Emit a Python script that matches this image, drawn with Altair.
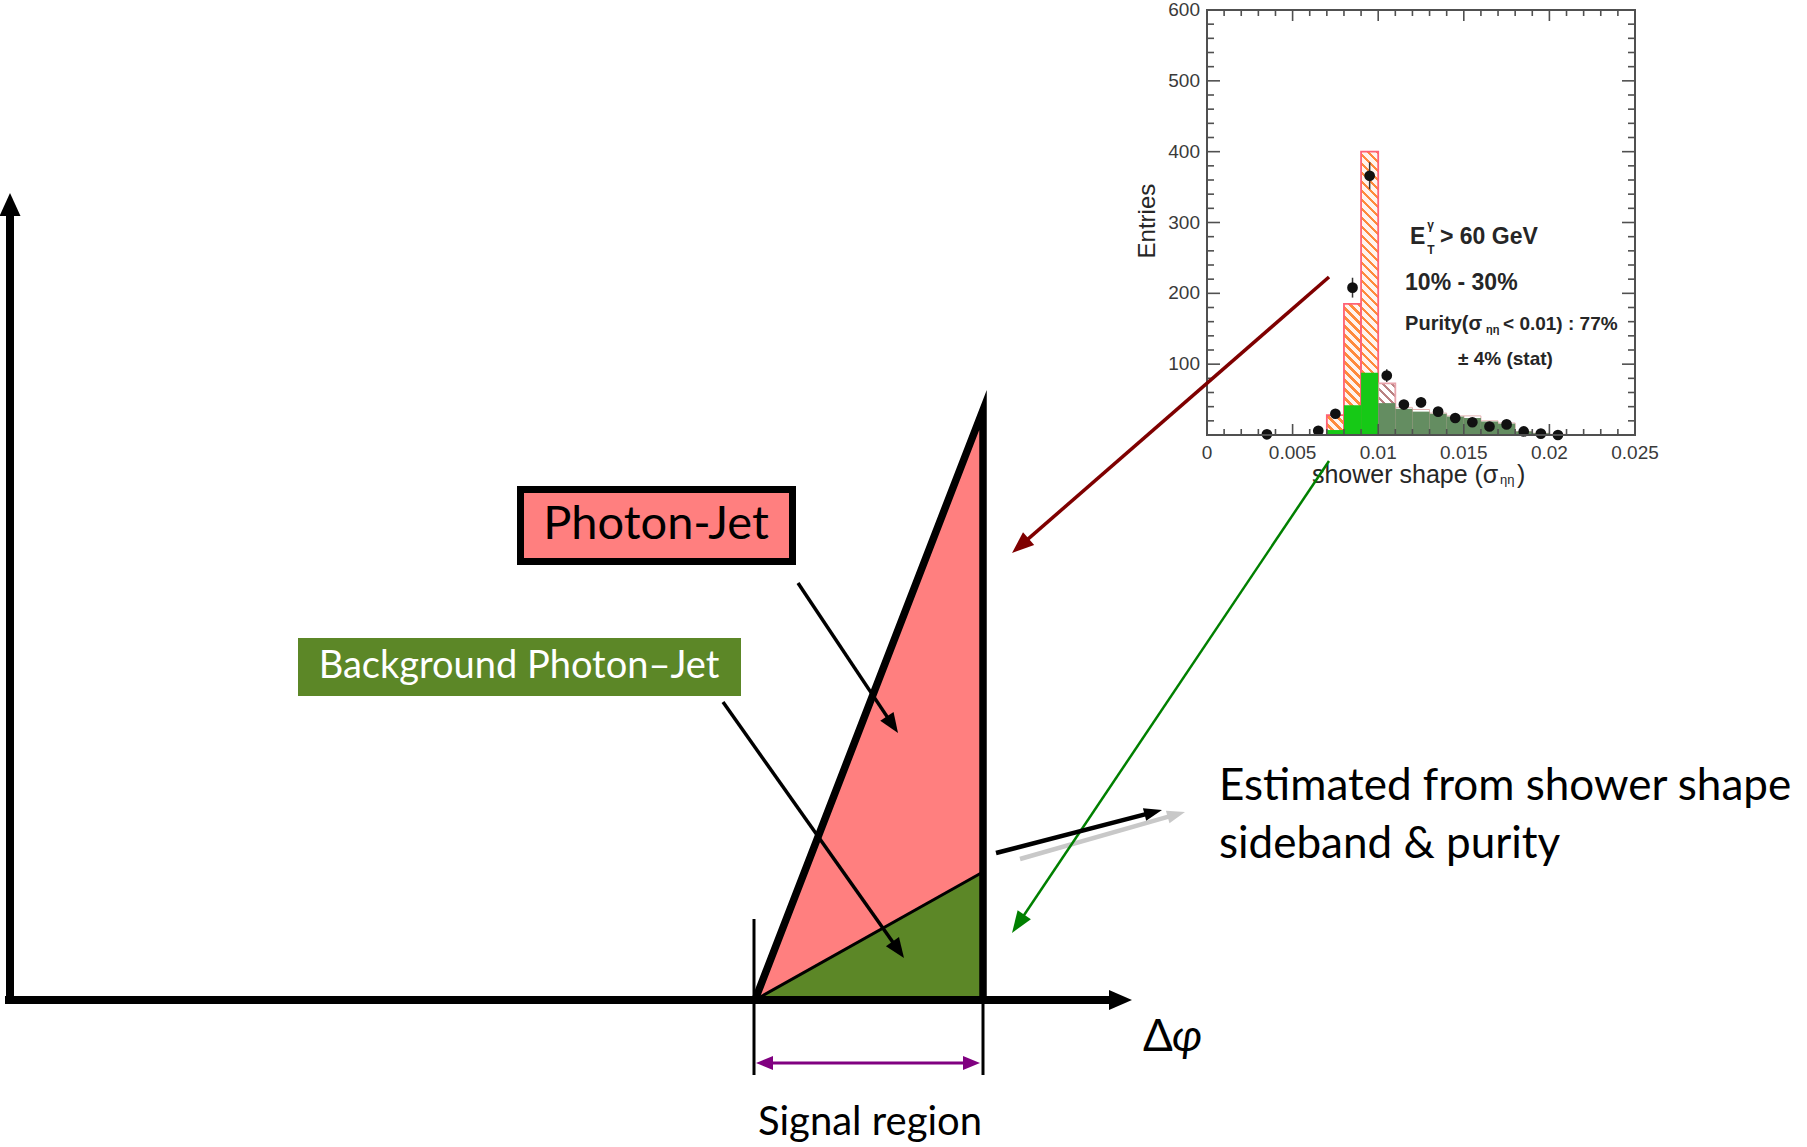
import math
import altair as alt
import pandas as pd

W, H = 1807, 1147

# ---------------------------------------------------------------------------
# Sketch of the Δφ distribution: diagram units, 1 unit = 100 px,
# origin at the corner of the two axes, y pointing up.
# ---------------------------------------------------------------------------
X_DOM = [-0.10, 17.97]
Y_DOM = [-1.47, 10.00]
PX_PER_UNIT = 100.0

# signal-region triangle: total photon-jet yield and its background part
tri_x = [7.45, 9.73]
tri_total = [0.00, 5.90]
tri_background = [0.00, 1.28]
tri_base = [0.00, 0.00]

# heavy outline of the total yield
outline_x = [7.45, 9.73, 9.73]
outline_y = [0.00, 5.90, -0.03]

# thin edges marking the signal region
edge_x = [7.44, 9.73]
edge_top = [0.81, 0.00]
edge_bottom = [-0.75, -0.75]

# signal-region span (double arrow)
span_x = [7.46, 9.70]
span_y = -0.63

# boxed labels
box_pj = {"x0": [5.105], "x1": [7.825], "y0": [4.385], "y1": [5.105]}
box_bg = {"x0": [2.88], "x1": [7.31], "y0": [3.04], "y1": [3.62]}

# arrows: start -> tip
arrow_x0 = [0.00, -0.05, 7.88, 7.13, 10.10, 13.19, 9.86, 13.19]
arrow_y0 = [-0.04, 0.00, 4.17, 2.98, 1.41, 5.39, 1.47, 7.23]
arrow_x1 = [0.00, 11.22, 8.88, 8.94, 11.75, 10.02, 11.52, 10.02]
arrow_y1 = [8.07, 0.00, 2.67, 0.42, 1.88, 0.67, 1.90, 4.47]
arrow_color = ["black", "black", "black", "black", "#c8c8c8", "#008000", "black", "#7f0000"]
arrow_width = [8, 8, 3.5, 3.5, 4.5, 2.5, 4.5, 3.5]
arrow_head_len = [23, 23, 20, 20, 18, 22, 18, 22]
arrow_head_w = [21, 20, 16, 16, 13, 16, 13, 17]

# text
pj_label = {"t": ["Photon-Jet"], "x": [6.46], "y": [4.75]}
bg_label = {"t": ["Background Photon–Jet"], "x": [5.09], "y": [3.33]}
region_label = {"t": ["Signal region"], "x": [8.60], "y": [-1.23]}
note_label = {"t": ["Estimated from shower shape", "sideband & purity"],
              "x": [12.09, 12.09], "y": [2.13, 1.55]}
delta_label = {"t": ["Δ"], "x": [11.33], "y": [-0.38]}
phi_label = {"t": ["φ"], "x": [11.62], "y": [-0.38]}

# ---------------------------------------------------------------------------
# Inset: shower-shape (σ_ηη) template fit
# ---------------------------------------------------------------------------
IN_X_DOM = [0.0, 0.025]
IN_Y_DOM = [0.0, 600.0]
IN_X_RANGE = [1207, 1635]
IN_Y_RANGE = [435, 10]

bin_lo = [0.007, 0.008, 0.009, 0.010, 0.011, 0.012, 0.013, 0.014,
          0.015, 0.016, 0.017, 0.018, 0.019, 0.020]
template_total = [28, 185, 400, 73, 39, 36, 31, 27, 27, 20, 17, 5, 2.5, 1]
template_background = [7, 42, 88, 45, 37, 33, 30, 26, 24, 19, 16, 5, 2.5, 1]

data_x = [0.0035, 0.0065, 0.0075, 0.0085, 0.0095, 0.0105, 0.0115, 0.0125,
          0.0135, 0.0145, 0.0155, 0.0165, 0.0175, 0.0185, 0.0195, 0.0205]
data_y = [1, 6, 30, 208, 366, 84, 43, 46, 33, 24, 18, 12, 15, 5, 2, 0]
data_err = [1, 2.5, 5.5, 14, 19, 9, 6.5, 7, 6, 5, 4, 3.5, 4, 2, 1.5, 0.5]

x_tick_vals = [0.0, 0.005, 0.010, 0.015, 0.020, 0.025]
x_tick_text = ["0", "0.005", "0.01", "0.015", "0.02", "0.025"]
y_tick_vals = [100, 200, 300, 400, 500, 600]
y_tick_text = ["100", "200", "300", "400", "500", "600"]
x_minor = [i * 0.001 for i in range(26) if i % 5]
y_minor = [i * 20 for i in range(31) if i % 5]

MAIN_FONT = "Lato, Noto Sans"
ROOT_FONT = "Liberation Sans"


def mx(f):
    return alt.X(f, type="quantitative", axis=None,
                 scale=alt.Scale(domain=X_DOM, nice=False, zero=False))


def my(f):
    return alt.Y(f, type="quantitative", axis=None,
                 scale=alt.Scale(domain=Y_DOM, nice=False, zero=False))


def ix(f):
    return alt.X(f, type="quantitative", axis=None,
                 scale=alt.Scale(domain=IN_X_DOM, range=IN_X_RANGE, nice=False, zero=False))


def iy(f):
    return alt.Y(f, type="quantitative", axis=None,
                 scale=alt.Scale(domain=IN_Y_DOM, range=IN_Y_RANGE, nice=False, zero=False))


def arrow(x0, y0, x1, y1, color, width, head_len, head_w, both=False):
    dx, dy = x1 - x0, y1 - y0
    length = math.hypot(dx, dy)
    ux, uy = dx / length, dy / length
    back = 0.7 * head_len / PX_PER_UNIT
    ex, ey = x1 - ux * back, y1 - uy * back
    sx, sy = (x0 + ux * back, y0 + uy * back) if both else (x0, y0)
    shaft = alt.Chart(pd.DataFrame({"x": [sx, ex], "y": [sy, ey], "o": [0, 1]})).mark_line(
        color=color, strokeWidth=width, strokeCap="butt"
    ).encode(x=mx("x"), y=my("y"), order="o:Q")
    ang = math.degrees(math.atan2(dx, dy)) % 360
    tips = [{"x": x1, "y": y1, "a": ang}]
    if both:
        tips.append({"x": x0, "y": y0, "a": (ang + 180) % 360})
    r = head_w / head_len
    head = alt.Chart(pd.DataFrame(tips)).mark_point(
        shape=f"M0,0L{r:.3f},2L{-r:.3f},2Z", size=head_len * head_len,
        filled=True, fill=color, opacity=1, strokeWidth=0
    ).encode(x=mx("x"), y=my("y"), angle=alt.Angle("a:Q", scale=None))
    return [shaft, head]


def hatch(w, h, ink, paper, period=9.0, frac=0.4):
    """Diagonal hatching as a striped linear gradient over a w x h px box."""
    k = (w + h) / (w * w + h * h)
    span = w + h
    stops = []
    c = 0.0
    while c < span - 1e-9:
        a = c / span
        b = min((c + frac * period) / span, 1.0)
        e = min((c + period) / span, 1.0)
        stops += [{"offset": a, "color": ink}, {"offset": b, "color": ink},
                  {"offset": b, "color": paper}, {"offset": e, "color": paper}]
        c += period
    return {"gradient": "linear", "x1": 0, "y1": 1, "x2": w * k, "y2": 1 - h * k,
            "stops": stops}


# ----------------------------- inset layers --------------------------------
px_x = (IN_X_RANGE[1] - IN_X_RANGE[0]) / (IN_X_DOM[1] - IN_X_DOM[0])
px_y = (IN_Y_RANGE[0] - IN_Y_RANGE[1]) / (IN_Y_DOM[1] - IN_Y_DOM[0])

hist = pd.DataFrame({"lo": bin_lo, "hi": [b + 0.001 for b in bin_lo],
                     "total": template_total, "bkg": template_background,
                     "zero": [0.0] * len(bin_lo)})

inset_layers = []
inset_layers.append(
    alt.Chart(pd.DataFrame({"x0": [0.0], "x1": [0.025], "y0": [0.0], "y1": [600.0]}))
    .mark_rect(fill="white", strokeWidth=0)
    .encode(x=ix("x0"), x2=alt.X2("x1"), y=iy("y0"), y2=alt.Y2("y1"))
)

for i, lo in enumerate(bin_lo):
    if lo > 0.0105:
        continue
    w = 0.001 * px_x
    h = template_total[i] * px_y
    if lo < 0.0095 + 0.0004:
        grad = hatch(w, h, "#ff8a3c", "#fff4ef")
        edge = "#ff6275"
    else:
        grad = hatch(w, h, "#b98282", "#ffffff")
        edge = "#e8a4ac"
    inset_layers.append(
        alt.Chart(hist.iloc[[i]]).mark_rect(fill=grad, stroke=edge, strokeWidth=1.8)
        .encode(x=ix("lo"), x2=alt.X2("hi"), y=iy("zero"), y2=alt.Y2("total"))
    )

inset_layers.append(
    alt.Chart(hist[hist.lo > 0.0105]).mark_rect(filled=False, color="#e4b4b4", strokeWidth=1)
    .encode(x=ix("lo"), x2=alt.X2("hi"), y=iy("zero"), y2=alt.Y2("total"))
)
inset_layers.append(
    alt.Chart(hist).mark_rect(strokeWidth=0)
    .encode(x=ix("lo"), x2=alt.X2("hi"), y=iy("zero"), y2=alt.Y2("bkg"),
            fill=alt.condition("datum.lo < 0.00995", alt.value("#16c916"), alt.value("#648d61")))
)

pts = pd.DataFrame({"x": data_x, "y": data_y,
                    "lo": [v - e for v, e in zip(data_y, data_err)],
                    "hi": [v + e for v, e in zip(data_y, data_err)]})
inset_layers.append(
    alt.Chart(pts).mark_rule(color="#333", strokeWidth=1.5)
    .encode(x=ix("x"), y=iy("lo"), y2=alt.Y2("hi"))
)
inset_layers.append(
    alt.Chart(pts).mark_circle(size=115, color="#111", opacity=1).encode(x=ix("x"), y=iy("y"))
)

# frame and inward ticks
FRAME = "#505050"
inset_layers.append(
    alt.Chart(pd.DataFrame({"x0": [0.0], "x1": [0.025], "y0": [0.0], "y1": [600.0]}))
    .mark_rect(filled=False, color=FRAME, strokeWidth=2)
    .encode(x=ix("x0"), x2=alt.X2("x1"), y=iy("y0"), y2=alt.Y2("y1"))
)


def xticks(vals, base, length):
    df = pd.DataFrame({"x": vals, "b": [base] * len(vals)})
    return alt.Chart(df).mark_rule(color=FRAME, strokeWidth=1.6, y2Offset=length).encode(
        x=ix("x"), y=iy("b"), y2=alt.Y2("b"))


def yticks(vals, base, length):
    df = pd.DataFrame({"y": vals, "b": [base] * len(vals)})
    return alt.Chart(df).mark_rule(color=FRAME, strokeWidth=1.6, x2Offset=length).encode(
        y=iy("y"), x=ix("b"), x2=alt.X2("b"))


inset_layers += [
    xticks(x_tick_vals, 0.0, -11), xticks(x_minor, 0.0, -6),
    xticks(x_tick_vals, 600.0, 11), xticks(x_minor, 600.0, 6),
    yticks(y_tick_vals, 0.0, 13), yticks(y_minor, 0.0, 7),
    yticks(y_tick_vals, 0.025, -13), yticks(y_minor, 0.025, -7),
]

inset_layers.append(
    alt.Chart(pd.DataFrame({"x": x_tick_vals, "t": x_tick_text, "b": [0.0] * 6}))
    .mark_text(font=ROOT_FONT, fontSize=19, color="#3a3a3a", dy=18, baseline="middle")
    .encode(x=ix("x"), y=iy("b"), text="t:N")
)
inset_layers.append(
    alt.Chart(pd.DataFrame({"y": y_tick_vals, "t": y_tick_text, "b": [0.0] * 6}))
    .mark_text(font=ROOT_FONT, fontSize=19, color="#3a3a3a", dx=-7, align="right", baseline="middle")
    .encode(x=ix("b"), y=iy("y"), text="t:N")
)


def inset_text(rows, size, bold=False, angle=0, align="left"):
    df = pd.DataFrame(rows, columns=["t", "x", "y"])
    props = dict(font=ROOT_FONT, fontSize=size, color="#262626", align=align, baseline="middle")
    if bold:
        props["fontWeight"] = "bold"
    if angle:
        props["angle"] = angle
    return alt.Chart(df).mark_text(**props).encode(x=ix("x"), y=iy("y"), text="t:N")


inset_layers += [
    inset_text([("E", 0.01186, 279.5), ("> 60 GeV", 0.01361, 279.5),
                ("10% - 30%", 0.01157, 214.6)], 23, bold=True),
    inset_text([("γ", 0.01286, 296.0), ("T", 0.01286, 261.0)], 12, bold=True),
    inset_text([("Purity(σ", 0.01157, 156.7)], 20, bold=True),
    inset_text([("< 0.01) : 77%", 0.01729, 156.7),
                ("± 4% (stat)", 0.01466, 107.3)], 19, bold=True),
    inset_text([("ηη", 0.01630, 148.0)], 11, bold=True),
    inset_text([("shower shape (σ", 0.00613, -56.5), (")", 0.01811, -56.5)], 25),
    inset_text([("ηη", 0.01711, -63.5)], 13),
    inset_text([("Entries", -0.00345, 302.0)], 24, angle=270, align="center"),
]

# ----------------------------- schematic layers -----------------------------
main_layers = []
tri = pd.DataFrame({"x": tri_x, "top": tri_total, "bkg": tri_background, "base": tri_base})
main_layers.append(
    alt.Chart(tri).mark_area(color="#FF7F7F", opacity=1).encode(x=mx("x"), y=my("top"), y2=alt.Y2("base"))
)
main_layers.append(
    alt.Chart(tri).mark_area(color="#5C8727", opacity=1).encode(x=mx("x"), y=my("bkg"), y2=alt.Y2("base"))
)
main_layers.append(
    alt.Chart(tri).mark_line(color="black", strokeWidth=3).encode(x=mx("x"), y=my("bkg"))
)
main_layers.append(
    alt.Chart(pd.DataFrame({"x": outline_x, "y": outline_y, "o": [0, 1, 2]}))
    .mark_line(color="black", strokeWidth=7.5, strokeJoin="miter", strokeMiterLimit=20, strokeCap="butt")
    .encode(x=mx("x"), y=my("y"), order="o:Q")
)
main_layers.append(
    alt.Chart(pd.DataFrame({"x": edge_x, "top": edge_top, "bottom": edge_bottom}))
    .mark_rule(color="black", strokeWidth=3)
    .encode(x=mx("x"), y=my("top"), y2=alt.Y2("bottom"))
)

# axes and pointer arrows
for i in range(len(arrow_x0)):
    main_layers += arrow(arrow_x0[i], arrow_y0[i], arrow_x1[i], arrow_y1[i],
                         arrow_color[i], arrow_width[i], arrow_head_len[i], arrow_head_w[i])
    if i == 3:
        main_layers += arrow(span_x[0], span_y, span_x[1], span_y, "#800080", 3, 17, 14, both=True)

# labelled boxes
main_layers.append(
    alt.Chart(pd.DataFrame(box_bg)).mark_rect(fill="#5C8727", strokeWidth=0)
    .encode(x=mx("x0"), x2=alt.X2("x1"), y=my("y0"), y2=alt.Y2("y1"))
)
main_layers.append(
    alt.Chart(pd.DataFrame(box_pj)).mark_rect(fill="#FF7F7F", stroke="black", strokeWidth=7, strokeJoin="miter")
    .encode(x=mx("x0"), x2=alt.X2("x1"), y=my("y0"), y2=alt.Y2("y1"))
)


def main_text(rows, size, color="black", align="center", italic=False):
    props = dict(font=MAIN_FONT, fontSize=size, color=color, align=align, baseline="middle")
    if italic:
        props["fontStyle"] = "italic"
    return alt.Chart(pd.DataFrame(rows)).mark_text(**props).encode(x=mx("x"), y=my("y"), text="t:N")


main_layers += [
    main_text(pj_label, 47),
    main_text(bg_label, 38, color="white"),
    main_text(region_label, 40),
    main_text(note_label, 44, align="left"),
    main_text(delta_label, 44, align="left"),
    main_text(phi_label, 44, align="left", italic=True),
]

inset = alt.layer(*inset_layers)
sketch = alt.layer(*main_layers)

chart = (
    alt.layer(inset, sketch)
    .resolve_scale(x="independent", y="independent")
    .properties(width=W, height=H, padding=0, background="white",
                autosize=alt.AutoSizeParams(type="none"))
    .configure_view(strokeWidth=0)
)

chart.save("out.html", embed_options={"renderer": "svg", "actions": False})
